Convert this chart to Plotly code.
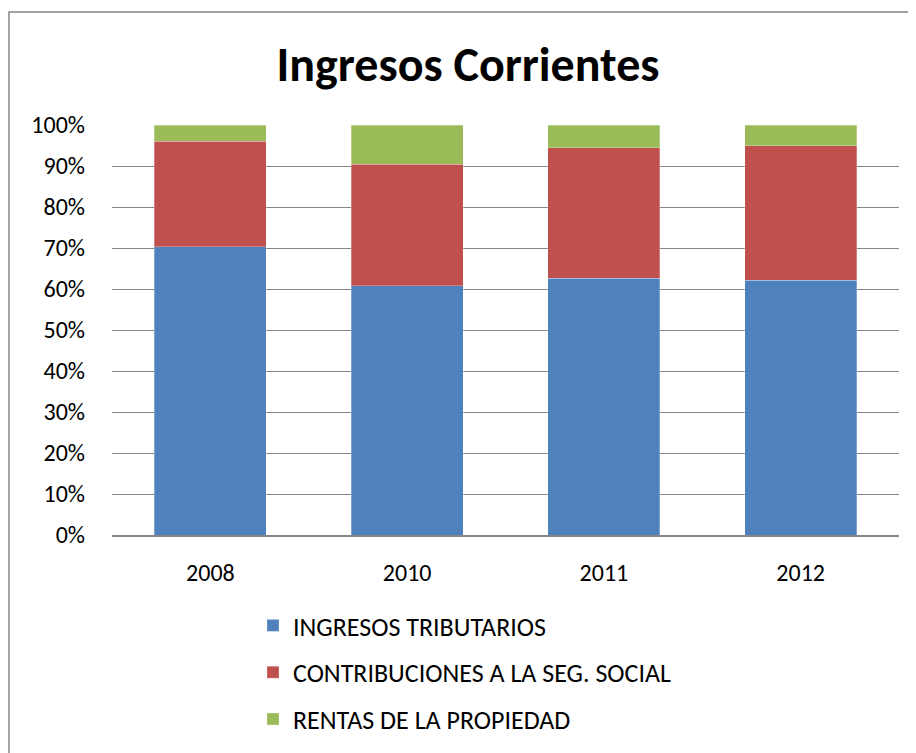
import plotly.graph_objects as go

years = ["2008", "2010", "2011", "2012"]
tributarios = [70.3, 60.8, 62.6, 62.1]
contribuciones = [25.7, 29.6, 31.8, 32.8]
rentas = [4.0, 9.6, 5.6, 5.1]
series_names = ["INGRESOS TRIBUTARIOS", "CONTRIBUCIONES A LA SEG. SOCIAL", "RENTAS DE LA PROPIEDAD"]
colors = ["#4F81BD", "#C0504D", "#9BBB59"]
y_ticks = [0, 10, 20, 30, 40, 50, 60, 70, 80, 90, 100]
y_labels = [f"{v}%" for v in y_ticks]

FONT = "Calibri, Carlito, Lato, sans-serif"

fig = go.Figure()
for i, (name, vals) in enumerate(zip(series_names, [tributarios, contribuciones, rentas])):
    fig.add_trace(go.Bar(
        x=years, y=vals, name=name, legendgroup=f"g{i}",
        marker=dict(color=colors[i], line=dict(width=0.8, color="rgba(255,255,255,0.35)")),
    ))

OFF = 8  # page body margin
W, H = 916 - OFF, 753 - OFF
# plot area in page coordinates
PL, PR, PT, PB = 112, 899, 125, 535
L, T = PL - OFF, PT - OFF
R = W - (PR - OFF)
B = H - (PB - OFF)
pw, ph = PR - PL, PB - PT

def px(x):
    return (x - PL) / pw

def py(y):
    return (PB - y) / ph

fig.update_layout(
    width=W, height=H,
    barmode="stack", bargap=0.43,
    margin=dict(l=L, r=R, t=T, b=B, autoexpand=False),
    paper_bgcolor="white", plot_bgcolor="white",
    title=dict(text="<b>Ingresos Corrientes</b>", x=px(468), xref="paper", xanchor="center",
               y=1 - (64 - OFF) / H, yanchor="middle",
               font=dict(family=FONT, size=48, color="black")),
    font=dict(family=FONT, size=24, color="black"),
    showlegend=True,
    legend=dict(orientation="v", traceorder="grouped", tracegroupgap=10,
                x=px(253), xanchor="left", y=py(602), yanchor="top",
                font=dict(family=FONT, size=26, color="black"),
                bgcolor="rgba(0,0,0,0)", itemwidth=30),
    xaxis=dict(showgrid=False, showline=True, linecolor="#868686", linewidth=1.5,
               ticks="", tickfont=dict(size=24), ticklabelstandoff=15),
    yaxis=dict(range=[0, 100], tickvals=y_ticks, ticktext=y_labels, showgrid=True,
               gridcolor="#868686", gridwidth=1.2, zeroline=False, showline=False,
               ticks="", tickfont=dict(size=24), ticklabelstandoff=26),
    shapes=[dict(type="rect", xref="paper", yref="paper",
                 x0=px(OFF + 1), x1=px(930), y0=py(775), y1=py(12),
                 line=dict(color="#868686", width=1.5), layer="below")],
)

fig.write_html("out.html")
